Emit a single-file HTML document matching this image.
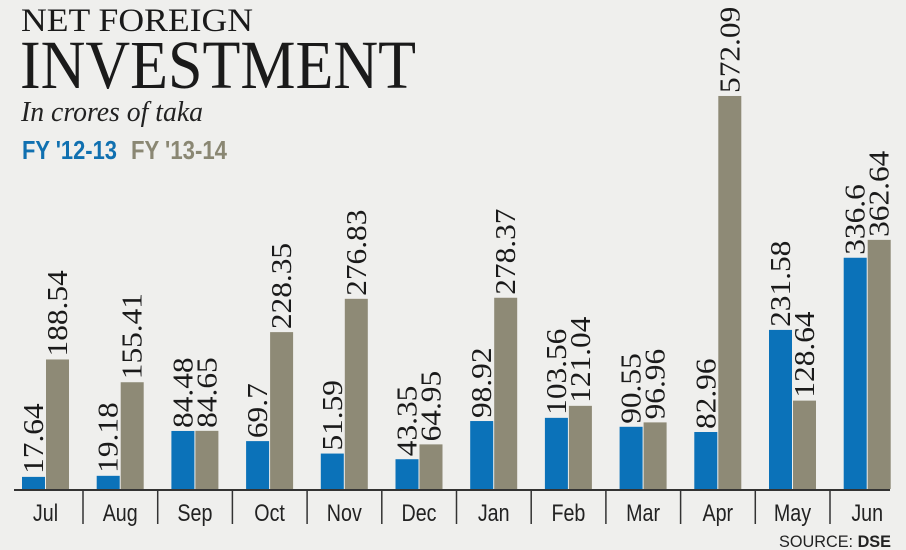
<!DOCTYPE html>
<html><head><meta charset="utf-8"><style>
html,body{margin:0;padding:0;background:#efefed;}
svg{display:block}
</style></head><body>
<svg width="906" height="550" viewBox="0 0 906 550" xmlns="http://www.w3.org/2000/svg">
<rect width="906" height="550" fill="#efefed"/>
<text x="21" y="31" font-family="Liberation Serif" font-size="33" fill="#1a1a1a" textLength="232" lengthAdjust="spacingAndGlyphs">NET FOREIGN</text>
<text x="20" y="88" font-family="Liberation Serif" font-size="69" fill="#1a1a1a" textLength="396" lengthAdjust="spacingAndGlyphs">INVESTMENT</text>
<text x="21" y="121" font-family="Liberation Serif" font-style="italic" font-size="28" fill="#222" textLength="182" lengthAdjust="spacingAndGlyphs">In crores of taka</text>
<text x="22" y="159" font-family="Liberation Sans" font-weight="bold" font-size="26" fill="#1070b0" textLength="95" lengthAdjust="spacingAndGlyphs">FY '12-13</text>
<text x="131" y="159" font-family="Liberation Sans" font-weight="bold" font-size="26" fill="#8a8773" textLength="96" lengthAdjust="spacingAndGlyphs">FY '13-14</text>
<line x1="14" y1="490" x2="890" y2="490" stroke="#333" stroke-width="2"/>
<g id="bars"></g>
<text x="779" y="547" font-family="Liberation Sans" font-size="17" fill="#222" textLength="112" lengthAdjust="spacingAndGlyphs">SOURCE: <tspan font-weight="bold">DSE</tspan></text>
</svg>
<script>
var m=["Jul","Aug","Sep","Oct","Nov","Dec","Jan","Feb","Mar","Apr","May","Jun"];
var a=["17.64","19.18","84.48","69.7","51.59","43.35","98.92","103.56","90.55","82.96","231.58","336.6"];
var b=["188.54","155.41","84.65","228.35","276.83","64.95","278.37","121.04","96.96","572.09","128.64","362.64"];
var s=0.687,B=489,h="";
for(var i=0;i<12;i++){
 var x=22+74.7*i;
 var ha=parseFloat(a[i])*s, hb=parseFloat(b[i])*s;
 h+='<rect x="'+x+'" y="'+(B-ha)+'" width="23" height="'+ha+'" fill="#0b72b9"/>';
 h+='<rect x="'+(x+24)+'" y="'+(B-hb)+'" width="23" height="'+hb+'" fill="#8e8a76"/>';
 h+='<text transform="translate('+(x+21)+','+(B-ha-3)+') rotate(-90) scale(1.12,1)" font-family="Liberation Serif" font-size="28" fill="#1a1a1a">'+a[i]+'</text>';
 h+='<text transform="translate('+(x+45)+','+(B-hb-3)+') rotate(-90) scale(1.12,1)" font-family="Liberation Serif" font-size="28" fill="#1a1a1a">'+b[i]+'</text>';
 h+='<text x="'+(x+23.5)+'" y="521" text-anchor="middle" font-family="Liberation Sans" font-size="24" fill="#222" transform="translate('+((x+23.5)*0.18)+',0) scale(0.82,1)">'+m[i]+'</text>';
 if(i<11) h+='<line x1="'+(83+74.7*i)+'" y1="490" x2="'+(83+74.7*i)+'" y2="524" stroke="#333" stroke-width="1.5"/>';
}
document.getElementById("bars").innerHTML=h;
</script>
</body></html>
